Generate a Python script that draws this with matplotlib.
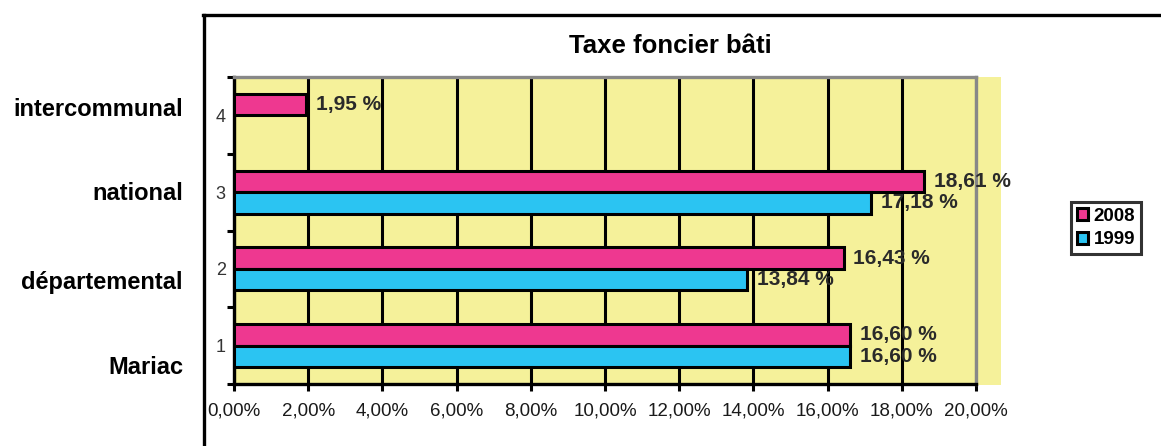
import matplotlib
matplotlib.use("Agg")
import matplotlib.pyplot as plt
from matplotlib.lines import Line2D
from matplotlib.patches import Rectangle
from matplotlib.ticker import FixedLocator, FuncFormatter
import numpy as np

plt.rcParams['font.family'] = ['Liberation Sans', 'DejaVu Sans']

# data
positions = [1, 2, 3, 4]
names = ['Mariac', 'départemental', 'national', 'intercommunal']
values_2008 = [16.60, 16.43, 18.61, 1.95]
values_1999 = [16.60, 13.84, 17.18, None]
series_labels = ['2008', '1999']

pink = '#EE3890'
cyan = '#2BC4F2'
yellow = '#F5F19A'
W, H = 1161, 446


def fx(px):
    return px / W


def fy(py):
    return 1 - py / H


fig = plt.figure(figsize=(W / 100, H / 100), dpi=100)

# yellow background sticking out to the right of the plot
fig.add_artist(Rectangle((fx(234), fy(385)), fx(1001) - fx(234), fy(77) - fy(385),
                         transform=fig.transFigure, facecolor=yellow,
                         edgecolor='none', zorder=0))

# outer chart frame (only top and left visible)
fig.add_artist(Line2D([fx(204), fx(204)], [fy(15), 0], transform=fig.transFigure,
                      color='black', lw=2.4))
fig.add_artist(Line2D([fx(203), 1], [fy(15), fy(15)], transform=fig.transFigure,
                      color='black', lw=2.4))

ax = fig.add_axes([fx(234), fy(384), fx(976) - fx(234), fy(77) - fy(384)])
ax.set_facecolor(yellow)
ax.set_zorder(1)

h = 0.28
y = np.array(positions, dtype=float)
v08 = np.array(values_2008, dtype=float)
v99 = np.array([np.nan if v is None else v for v in values_1999], dtype=float)

ax.barh(y + h / 2, v08, height=h, color=pink, edgecolor='black', linewidth=2.2,
        label=series_labels[0], zorder=3)
mask = ~np.isnan(v99)
ax.barh(y[mask] - h / 2, v99[mask], height=h, color=cyan, edgecolor='black',
        linewidth=2.2, label=series_labels[1], zorder=3)


def pct(v):
    return f"{v:.2f} %".replace('.', ',')


for yy, v in zip(y + h / 2, v08):
    ax.annotate(pct(v), (v, yy), xytext=(7, 0), textcoords='offset points',
                ha='left', va='center', fontsize=15, fontweight='bold',
                color='#2a2a2a', zorder=5, annotation_clip=False)
for yy, v in zip(y[mask] - h / 2, v99[mask]):
    ax.annotate(pct(v), (v, yy), xytext=(7, 0), textcoords='offset points',
                ha='left', va='center', fontsize=15, fontweight='bold',
                color='#2a2a2a', zorder=5, annotation_clip=False)

ax.set_xlim(0, 20)
ax.set_ylim(0.5, 4.5)
ax.set_xticks(np.arange(0, 21, 2))
ax.xaxis.set_major_formatter(FuncFormatter(lambda v, p: f"{v:.2f}%".replace('.', ',')))
ax.grid(axis='x', color='black', linewidth=2.2, zorder=1)
ax.set_axisbelow(True)

ax.yaxis.set_major_locator(FixedLocator([0.5, 1.5, 2.5, 3.5, 4.5]))
ax.yaxis.set_major_formatter(FuncFormatter(lambda v, p: ''))
ax.yaxis.set_minor_locator(FixedLocator(positions))
ax.yaxis.set_minor_formatter(FuncFormatter(lambda v, p: f"{int(v)}"))
ax.tick_params(axis='y', which='major', length=5, width=2.2, direction='out')
ax.tick_params(axis='y', which='minor', length=0, labelsize=13, labelcolor='#333333', pad=6)
ax.tick_params(axis='x', length=5, width=2.2, direction='out', labelsize=13.5,
               labelcolor='#1a1a1a', pad=8)

for s in ['left', 'bottom']:
    ax.spines[s].set_color('black')
    ax.spines[s].set_linewidth(2.4)
for s in ['top', 'right']:
    ax.spines[s].set_color('#888888')
    ax.spines[s].set_linewidth(2.4)

fig.text(fx(670), fy(46), 'Taxe foncier bâti', ha='center', va='center',
         fontsize=18.5, fontweight='bold')

# category names, placed to the left of the chart frame
name_y = [368, 283, 193, 110]
for n, py in zip(names, name_y):
    fig.text(fx(183), fy(py), n, ha='right', va='center', fontsize=17,
             fontweight='bold')

leg = fig.legend(loc='center', bbox_to_anchor=(fx(1106), fy(228)),
                 prop={'size': 13.5, 'weight': 'bold'}, frameon=True,
                 fancybox=False, handlelength=0.6, handleheight=0.6,
                 handletextpad=0.3, borderpad=0.3, labelspacing=0.35,
                 borderaxespad=0)
leg.get_frame().set_edgecolor('black')
leg.get_frame().set_linewidth(2.2)

fig.savefig('out.png', dpi=100)
